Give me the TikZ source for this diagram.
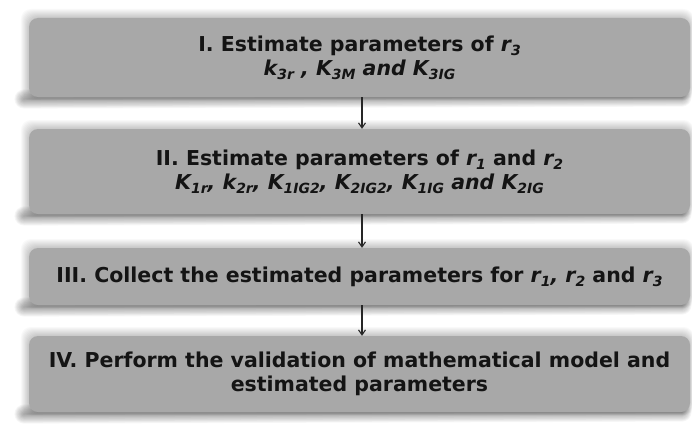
\documentclass[tikz,border=0pt]{standalone}
\usepackage{fontspec}
\setmainfont{DejaVu Sans}
\usetikzlibrary{arrows.meta}
\definecolor{boxgray}{RGB}{168,168,168}
\definecolor{textblack}{RGB}{20,20,20}
\newcommand\mysub[1]{\raisebox{-0.35ex}{\fontsize{14}{14}\selectfont #1}}
\newcommand\shadowfor[2]{%
  \foreach \i in {1,...,9}{
    \fill[black,opacity=0.022,rounded corners=10pt] ({29-\i*0.9},{#1-\i}) rectangle ({690+\i*0.4},{#2+\i*0.4});
  }
  \foreach \i in {1,...,12}{
    \draw[black,opacity=0.03,line width=\i*1.6pt,line cap=round] (24,{#2+2}) -- (682,{#2});
  }
}
\tikzset{
  stepbox/.style={fill=boxgray, rounded corners=9pt, minimum width=661pt, align=center,
    font=\bfseries\fontsize{20.5}{24}\selectfont, text=textblack, inner sep=0pt},
  flow/.style={-{Straight Barb[length=5pt,width=7pt]}, line width=1.1pt, draw=black!85}
}
\begin{document}
\begin{tikzpicture}[x=1pt,y=-1pt]
\useasboundingbox (0,0) rectangle (692,428);
\fill[white] (0,0) rectangle (692,428);
\shadowfor{18}{97}
\shadowfor{129}{214}
\shadowfor{248}{305}
\shadowfor{336}{412}
\node[stepbox, minimum height=79pt] (b1) at (359.5,57.5)
  {I. Estimate parameters of \textit{r\mysub{3}}\\ \textit{k\mysub{3r} , K\mysub{3M} and K\mysub{3IG}}};
\node[stepbox, minimum height=85pt] (b2) at (359.5,171.5)
  {II. Estimate parameters of \textit{r\mysub{1}} and \textit{r\mysub{2}}\\ \textit{K\mysub{1r}, k\mysub{2r}, K\mysub{1IG2}, K\mysub{2IG2}, K\mysub{1IG} and K\mysub{2IG}}};
\node[stepbox, minimum height=57pt] (b3) at (359.5,276.5)
  {III. Collect the estimated parameters for \textit{r\mysub{1}, r\mysub{2}} and \textit{r\mysub{3}}};
\node[stepbox, minimum height=76pt] (b4) at (359.5,374)
  {IV. Perform the validation of mathematical model and\\ estimated parameters};
\draw[flow] ([xshift=2.5pt]b1.south) -- ([xshift=2.5pt]b2.north);
\draw[flow] ([xshift=2.5pt]b2.south) -- ([xshift=2.5pt]b3.north);
\draw[flow] ([xshift=2.5pt]b3.south) -- ([xshift=2.5pt]b4.north);
\end{tikzpicture}
\end{document}
